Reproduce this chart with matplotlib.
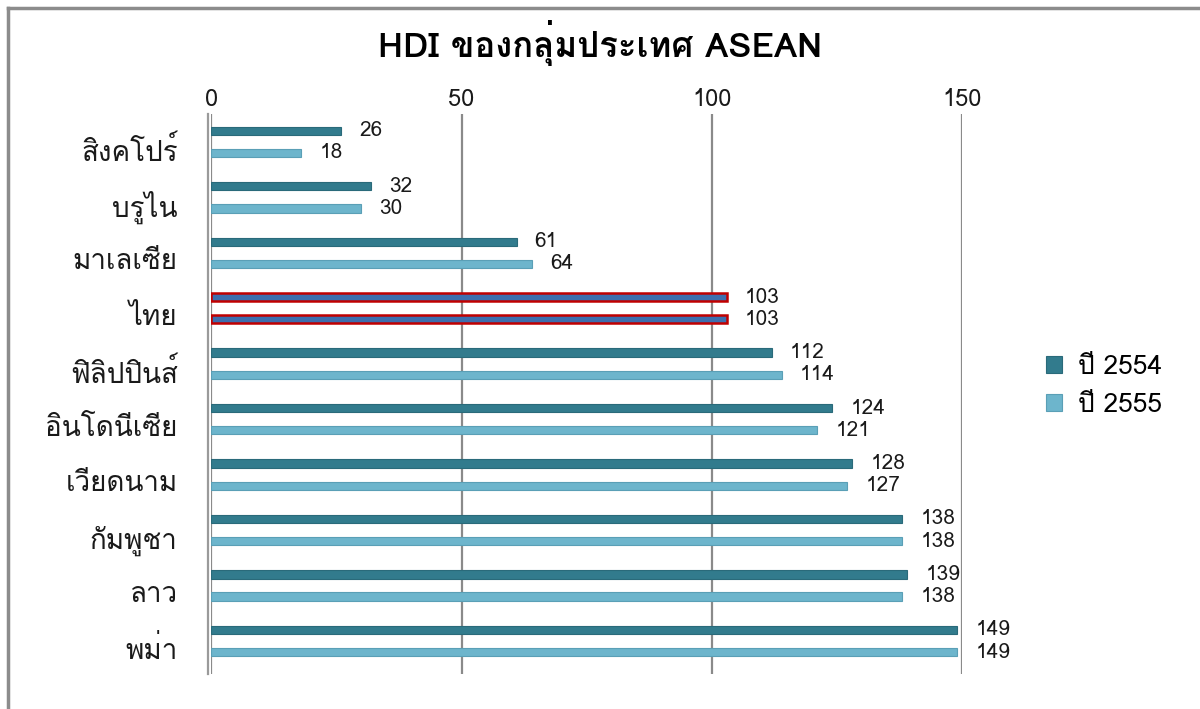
import matplotlib
matplotlib.use("Agg")
import matplotlib.pyplot as plt
from matplotlib import font_manager
from matplotlib.lines import Line2D
import numpy as np

countries = ["สิงคโปร์", "บรูไน", "มาเลเซีย", "ไทย", "ฟิลิปปินส์",
             "อินโดนีเซีย", "เวียดนาม", "กัมพูชา", "ลาว", "พม่า"]
hdi_2554 = [26, 32, 61, 103, 112, 124, 128, 138, 139, 149]
hdi_2555 = [18, 30, 64, 103, 114, 121, 127, 138, 138, 149]
series_names = ["ปี 2554", "ปี 2555"]
x_ticks = [0, 50, 100, 150]


# find any installed font that has Thai glyphs
def find_thai_font():
    try:
        from fontTools.ttLib import TTFont
    except ImportError:
        return None
    for f in font_manager.fontManager.ttflist:
        try:
            tt = TTFont(f.fname, fontNumber=0, lazy=True)
            cmap = tt.getBestCmap()
            if cmap and 0x0E2A in cmap and 0x0E49 in cmap:
                return f.name
        except Exception:
            pass
    return None


thai = find_thai_font()
fams = [thai, "DejaVu Sans"] if thai else ["DejaVu Sans"]
plt.rcParams["font.family"] = fams

dark = "#327b8d"
light = "#6db5cc"
thai_col = "#3d6fae"

fig = plt.figure(figsize=(12, 7.09), dpi=100)
ax = fig.add_axes([0.176, 0.049, 0.626, 0.79])

y = np.arange(len(countries))
h = 0.15
off = 0.2
cols1 = [thai_col if c == "ไทย" else dark for c in countries]
cols2 = [thai_col if c == "ไทย" else light for c in countries]
edge1 = ["#c00000" if c == "ไทย" else "#2a6a7a" for c in countries]
edge2 = ["#c00000" if c == "ไทย" else "#5a9fb6" for c in countries]
lw = [1.8 if c == "ไทย" else 0.8 for c in countries]

ax.barh(y - off, hdi_2554, height=h, color=cols1, edgecolor=edge1, linewidth=lw,
        label=series_names[0], zorder=3)
ax.barh(y + off, hdi_2555, height=h, color=cols2, edgecolor=edge2, linewidth=lw,
        label=series_names[1], zorder=3)

for i in range(len(countries)):
    ax.annotate(str(hdi_2554[i]), (hdi_2554[i], y[i] - off), xytext=(13, 0),
                textcoords="offset points", va="center", ha="left", fontsize=15,
                color="#1a1a1a")
    ax.annotate(str(hdi_2555[i]), (hdi_2555[i], y[i] + off), xytext=(13, 0),
                textcoords="offset points", va="center", ha="left", fontsize=15,
                color="#1a1a1a")

ax.set_xlim(0, 150)
ax.set_ylim(len(countries) - 0.4, -0.5)
ax.set_xticks(x_ticks)
ax.xaxis.tick_top()
ax.tick_params(axis="x", length=0, pad=2, labelsize=17, labelcolor="#1a1a1a")
ax.set_yticks(y + 0.12)
ax.set_yticklabels(countries)
ax.tick_params(axis="y", length=0, pad=22, labelsize=20, labelcolor="#1a1a1a")
for t in ax.get_yticklabels():
    t.set_fontweight("bold")
ax.grid(axis="x", color="#8a8a8a", linewidth=1.6, zorder=0)
for s in ["top", "right", "bottom"]:
    ax.spines[s].set_visible(False)
ax.spines["left"].set_color("#9a9a9a")
ax.spines["left"].set_linewidth(1.6)
ax.spines["left"].set_position(("data", -0.6))

ax.legend(loc="center left", bbox_to_anchor=(1.08, 0.515), frameon=False,
          fontsize=19, handlelength=0.6, handleheight=0.6, handletextpad=0.6,
          labelspacing=0.55)

fig.suptitle("HDI ของกลุ่มประเทศ ASEAN", y=0.972, fontsize=25, fontweight="bold")

# outer frame of the original chart
fig.add_artist(Line2D([0.007, 0.007], [0, 0.989], transform=fig.transFigure,
                      color="#8c8c8c", linewidth=2.5))
fig.add_artist(Line2D([0.007, 1], [0.989, 0.989], transform=fig.transFigure,
                      color="#8c8c8c", linewidth=2.5))

fig.savefig("out.png", dpi=100)
